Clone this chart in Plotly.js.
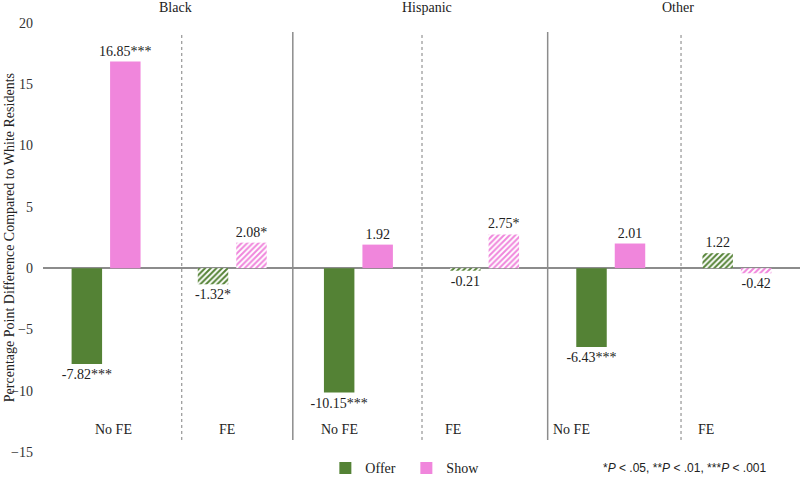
<!DOCTYPE html>
<html>
<head>
<meta charset="utf-8">
<script src="https://cdn.plot.ly/plotly-3.0.1.min.js"></script>
<style>html,body{margin:0;padding:0;background:#fff;}#chart{width:800px;height:488px;}</style>
</head>
<body>
<div id="chart"></div>
<script>
// ---- data ----
const groups = ["Black", "Hispanic", "Other"];
const subLabels = ["No FE", "FE"];
const offerValues = [-7.82, -1.32, -10.15, -0.21, -6.43, 1.22];
const showValues = [16.85, 2.08, 1.92, 2.75, 2.01, -0.42];
const offerLabels = ["-7.82***", "-1.32*", "-10.15***", "-0.21", "-6.43***", "1.22"];
const showLabels = ["16.85***", "2.08*", "1.92", "2.75*", "2.01", "-0.42"];
const seriesNames = ["Offer", "Show"];
const yTicks = [-15, -10, -5, 0, 5, 10, 15, 20];
const footnote = "*<i>P</i> < .05, **<i>P</i> < .01, ***<i>P</i> < .001";
const yTitle = "Percentage Point Difference Compared to White Residents";

// ---- build categories ----
const categories = [];
const catSub = [];
groups.forEach(g => subLabels.forEach(s => { categories.push(g + " | " + s); catSub.push(s); }));
const patternShapes = catSub.map(s => s === "FE" ? "/" : "");

const serif = "Liberation Serif";
const green = "#548235";
const pink = "#F086DC";

function barTrace(name, vals, labels, color) {
  return {
    type: "bar", name: name, x: categories, y: vals,
    text: labels, textposition: "outside", constraintext: "none", cliponaxis: false,
    textfont: {family: serif, size: 14, color: "#222"},
    marker: {color: color, line: {width: 0},
      pattern: {shape: patternShapes, fgcolor: color, bgcolor: "#ffffff", size: 4, solidity: 0.5}},
    hoverinfo: "x+y"
  };
}

const traces = [
  barTrace(seriesNames[0], offerValues, offerLabels, green),
  barTrace(seriesNames[1], showValues, showLabels, pink)
];

// ---- layout decorations ----
const shapes = [];
const solidPos = [1.48, 3.5];
const dottedPos = [0.6, 2.504, 4.557];
solidPos.forEach(p => shapes.push({type: "line", xref: "x", yref: "paper", x0: p, x1: p, y0: 0.028, y1: 0.979,
  line: {color: "#8c8c8c", width: 1.5}}));
dottedPos.forEach(p => shapes.push({type: "line", xref: "x", yref: "paper", x0: p, x1: p, y0: 0.028, y1: 0.979,
  line: {color: "#7f7f7f", width: 1, dash: "dot"}}));

const annotations = [];
const groupPos = [0.554, 2.544, 4.533];
groups.forEach((g, i) => annotations.push({text: g, xref: "x", yref: "paper", x: groupPos[i], y: 1.035,
  showarrow: false, xanchor: "center", yanchor: "middle", font: {family: serif, size: 14, color: "#222"}}));
const subShift = [7, -5, -19, -32, -39, -31];
categories.forEach((c, i) => annotations.push({text: catSub[i], xref: "x", yref: "y", x: c, y: -13.2,
  xshift: subShift[i], showarrow: false, xanchor: "center", yanchor: "middle",
  font: {family: serif, size: 14, color: "#222"}}));
annotations.push({text: yTitle, xref: "paper", yref: "paper", x: -0.044, y: 0.5, textangle: -90,
  showarrow: false, xanchor: "center", yanchor: "middle", font: {family: serif, size: 14, color: "#222"}});
annotations.push({text: footnote, xref: "paper", yref: "paper", x: 0.958, y: -0.038, showarrow: false,
  xanchor: "right", yanchor: "middle", font: {family: "Liberation Sans", size: 12, color: "#222"}});

const layout = {
  width: 800, height: 488,
  margin: {l: 43, r: 0, t: 23, b: 36, pad: 0},
  paper_bgcolor: "#ffffff", plot_bgcolor: "#ffffff",
  barmode: "group", bargap: 0.39, bargroupgap: 0.208,
  showlegend: true,
  legend: {orientation: "h", x: 0.48, xanchor: "center", y: -0.038, yanchor: "middle",
    font: {family: serif, size: 14, color: "#222"}, itemwidth: 30, entrywidth: 36, tracegroupgap: 0,
    bgcolor: "rgba(0,0,0,0)"},
  xaxis: {type: "category", range: [-0.5, 5.5], showticklabels: false, showgrid: false, showline: false,
    zeroline: false, ticks: "", fixedrange: true},
  yaxis: {range: [-15, 20], tickvals: yTicks, showgrid: false, showline: false, zeroline: true,
    zerolinecolor: "#8c8c8c", zerolinewidth: 1.5, ticks: "", ticklabelstandoff: 9,
    tickfont: {family: serif, size: 14, color: "#333"}, fixedrange: true},
  shapes: shapes,
  annotations: annotations
};

Plotly.newPlot("chart", traces, layout, {displayModeBar: false, staticPlot: true});
</script>
</body>
</html>
